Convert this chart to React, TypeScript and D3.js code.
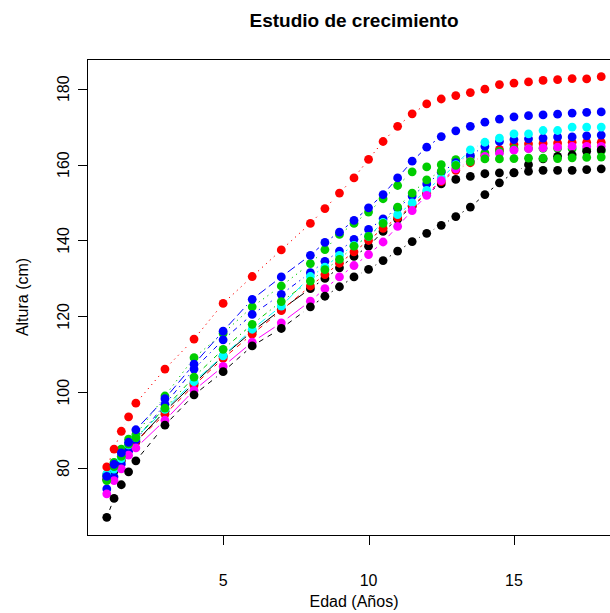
import React from "react";
import * as d3 from "d3";

// Berkeley-style growth study: height (cm) by age, 10 subjects
const ages = [1, 1.25, 1.5, 1.75, 2, 3, 4, 5, 6, 7, 8, 8.5, 9, 9.5, 10, 10.5, 11, 11.5, 12, 12.5, 13, 13.5, 14, 14.5, 15, 15.5, 16, 16.5, 17, 17.5, 18];

const s1 = [77.0, 79.2, 82.0, 84.8, 86.9, 95.0, 102.3, 109.5, 116.0, 121.8, 127.3, 130.0, 132.8, 135.8, 138.5, 142.4, 145.6, 149.0, 152.3, 154.9, 156.1, 156.9, 157.6, 157.8, 157.8, 158.2, 158.5, 158.5, 158.5, 158.7, 158.9];
const s2 = [78.3, 80.2, 82.3, 85.0, 87.0, 94.2, 101.8, 108.9, 115.3, 121.5, 128.0, 131.0, 134.0, 137.0, 140.0, 143.2, 146.0, 149.2, 152.5, 155.5, 158.5, 160.5, 162.5, 164.0, 165.3, 165.5, 165.6, 165.7, 165.9, 165.9, 165.9];
const s3 = [78.0, 81.5, 85.0, 87.6, 88.8, 99.0, 109.1, 115.5, 122.5, 128.0, 133.9, 137.6, 141.6, 144.5, 147.5, 151.0, 154.5, 158.1, 159.4, 160.0, 161.3, 162.0, 163.1, 163.5, 164.2, 164.3, 164.3, 164.3, 164.2, 164.0, 163.6];
const s4 = [74.5, 77.7, 81.1, 84.5, 87.4, 96.8, 106.1, 113.8, 120.5, 125.8, 131.5, 134.5, 137.2, 140.3, 142.9, 145.7, 148.5, 151.7, 154.9, 158.0, 160.5, 162.5, 164.8, 166.1, 166.6, 166.8, 167.0, 167.3, 167.3, 167.6, 167.8];
const s5 = [78.5, 79.7, 82.5, 86.1, 88.0, 95.5, 102.8, 109.6, 116.6, 122.7, 130.5, 133.0, 136.1, 138.7, 141.1, 144.8, 146.8, 149.9, 153.2, 156.5, 160.0, 163.9, 165.9, 167.0, 168.1, 168.1, 169.0, 169.0, 169.9, 169.9, 169.9];
const s6 = [73.2, 76.7, 79.8, 83.4, 85.3, 92.6, 100.5, 106.8, 113.2, 118.3, 124.0, 127.3, 130.4, 133.4, 136.3, 139.6, 143.7, 147.9, 151.9, 155.8, 158.9, 160.9, 162.2, 163.0, 163.8, 164.2, 164.4, 164.6, 164.8, 164.8, 164.8];
const s7 = [67.0, 72.0, 75.6, 79.0, 81.9, 91.3, 99.3, 105.4, 112.2, 116.8, 122.5, 125.3, 127.8, 130.4, 132.4, 134.7, 137.2, 139.7, 141.9, 144.0, 146.3, 148.8, 152.1, 155.2, 157.9, 160.0, 161.5, 162.2, 162.6, 163.5, 163.9];
const s8 = [80.3, 85.0, 89.7, 93.5, 97.1, 106.1, 114.0, 123.4, 130.5, 137.5, 144.5, 148.4, 152.5, 156.5, 161.4, 166.1, 170.1, 173.4, 176.0, 177.3, 178.2, 179.0, 179.9, 181.1, 181.5, 181.8, 182.2, 182.4, 182.7, 182.6, 183.2];
const s9 = [76.7, 80.4, 83.1, 86.3, 88.0, 95.8, 104.0, 111.3, 117.9, 123.9, 129.3, 132.3, 135.0, 138.5, 141.1, 144.5, 148.8, 152.5, 156.0, 158.3, 159.8, 160.8, 161.5, 161.5, 161.6, 161.7, 161.7, 161.6, 161.8, 161.9, 162.0];
const s10 = [77.8, 81.0, 84.0, 86.8, 90.1, 98.3, 107.4, 116.1, 124.5, 130.4, 136.1, 139.5, 142.2, 145.3, 148.6, 152.1, 156.5, 160.9, 164.6, 167.4, 168.9, 170.1, 171.2, 172.0, 172.6, 172.9, 173.1, 173.3, 173.6, 173.8, 173.9];

const series = [s1, s2, s3, s4, s5, s6, s7, s8, s9, s10];

const xTicks = [5, 10, 15];
const yTicks = [80, 100, 120, 140, 160, 180];

// R's old default palette and lty cycle (matplot)
const palette = ["#000000", "#FF0000", "#00CD00", "#0000FF", "#00FFFF", "#FF00FF"];
const dashes = ["none", "5,5", "1.3,4", "1.3,4,5,4", "9,4"];

export default function App() {
  const W = 610, H = 613;
  const left = 87, right = 621, top = 59, bottom = 535;
  const font = "'Liberation Sans', Arial, Helvetica, sans-serif";

  // R style 4% axis extension
  const xr = d3.extent(ages) as [number, number];
  const xe = (xr[1] - xr[0]) * 0.04;
  const all = series.flat();
  const yr = d3.extent(all) as [number, number];
  const ye = (yr[1] - yr[0]) * 0.04;

  const x = d3.scaleLinear().domain([xr[0] - xe, xr[1] + xe]).range([left, right]);
  const y = d3.scaleLinear().domain([yr[0] - ye, yr[1] + ye]).range([bottom, top]);

  const gap = 8;
  const r = 4.4;

  return (
    <svg width={W} height={H} style={{ position: "absolute", left: 0, top: 0, background: "#fff" }}>
      <rect x={0} y={0} width={W} height={H} fill="#fff" />
      <text x={(left + right) / 2} y={27} textAnchor="middle" fontFamily={font} fontWeight="bold" fontSize={19}>
        Estudio de crecimiento
      </text>

      {series.map((vals, si) => {
        const col = palette[si % 6];
        const dash = dashes[si % 5];
        const segs = [];
        for (let i = 0; i < ages.length - 1; i++) {
          const x0 = x(ages[i]), y0 = y(vals[i]);
          const x1 = x(ages[i + 1]), y1 = y(vals[i + 1]);
          const d = Math.hypot(x1 - x0, y1 - y0);
          if (d <= 2 * gap) continue;
          const ux = (x1 - x0) / d, uy = (y1 - y0) / d;
          segs.push(
            <line key={i} x1={x0 + ux * gap} y1={y0 + uy * gap} x2={x1 - ux * gap} y2={y1 - uy * gap}
              stroke={col} strokeWidth={1} strokeDasharray={dash} />
          );
        }
        return (
          <g key={si}>
            {segs}
            {vals.map((v, i) => (
              <circle key={i} cx={x(ages[i])} cy={y(v)} r={r} fill={col} />
            ))}
          </g>
        );
      })}

      {/* box */}
      <rect x={left + 0.5} y={top + 0.5} width={right - left} height={bottom - top} fill="none" stroke="#000" strokeWidth={1} />

      {/* x axis */}
      <line x1={x(xTicks[0])} x2={x(xTicks[xTicks.length - 1])} y1={bottom + 0.5} y2={bottom + 0.5} stroke="#000" />
      {xTicks.map((t) => (
        <g key={t}>
          <line x1={Math.round(x(t)) + 0.5} x2={Math.round(x(t)) + 0.5} y1={bottom} y2={bottom + 10} stroke="#000" />
          <text x={x(t)} y={586} textAnchor="middle" fontFamily={font} fontSize={16}>{t}</text>
        </g>
      ))}

      {/* y axis */}
      <line x1={left + 0.5} x2={left + 0.5} y1={y(yTicks[0])} y2={y(yTicks[yTicks.length - 1])} stroke="#000" />
      {yTicks.map((t) => (
        <g key={t}>
          <line x1={left - 9} x2={left} y1={Math.round(y(t)) + 0.5} y2={Math.round(y(t)) + 0.5} stroke="#000" />
          <text transform={`translate(69,${y(t)}) rotate(-90)`} textAnchor="middle" fontFamily={font} fontSize={16}>{t}</text>
        </g>
      ))}

      <text x={(left + right) / 2} y={607} textAnchor="middle" fontFamily={font} fontSize={16}>Edad (Años)</text>
      <text transform={`translate(28,${(top + bottom) / 2}) rotate(-90)`} textAnchor="middle" fontFamily={font} fontSize={16}>Altura (cm)</text>
    </svg>
  );
}
